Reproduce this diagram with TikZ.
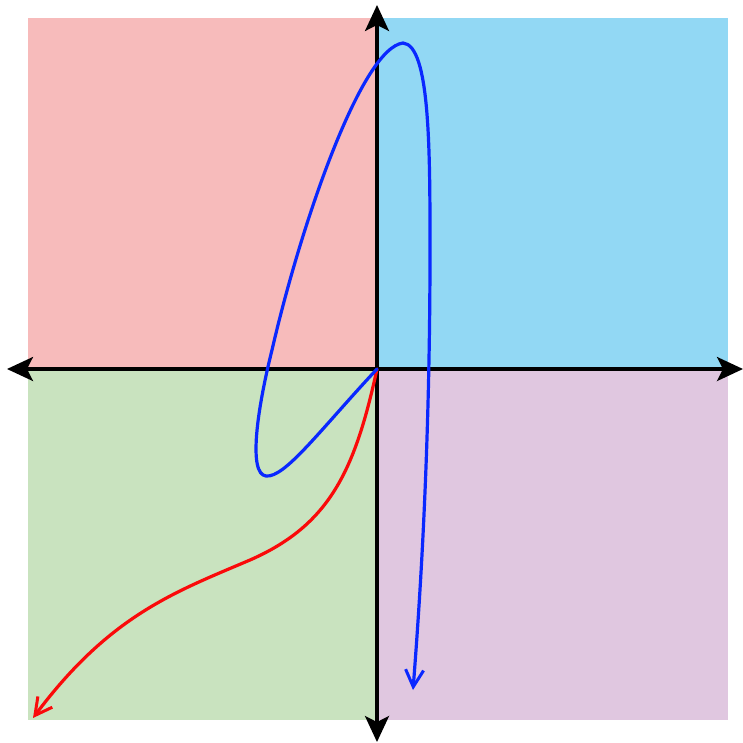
\documentclass[tikz,border=0pt]{standalone}
\usetikzlibrary{arrows.meta}
\definecolor{qred}{RGB}{247,187,187}
\definecolor{qblue}{RGB}{146,216,244}
\definecolor{qgreen}{RGB}{201,227,191}
\definecolor{qpurple}{RGB}{224,199,224}
\definecolor{cblue}{RGB}{10,40,255}
\definecolor{cred}{RGB}{250,10,10}
\tikzset{
  axis/.style={line width=3.2pt,black,{Stealth[length=26pt,width=24pt,inset=6pt]}-{Stealth[length=26pt,width=24pt,inset=6pt]}},
  curve/.style={line width=3.2pt,line cap=round,-{Straight Barb[length=17pt,width=18pt,line width=3pt]}}
}
\begin{document}
\begin{tikzpicture}[x=1pt,y=-1pt]
\useasboundingbox (0,0) rectangle (743,742);
\fill[qred] (28,18) rectangle (377,369);
\fill[qblue] (377,18) rectangle (728,369);
\fill[qgreen] (28,369) rectangle (377,720);
\fill[qpurple] (377,369) rectangle (728,720);
\coordinate (O) at (377,369);
\coordinate (L) at (7,369);
\coordinate (R) at (743,369);
\coordinate (T) at (377,5);
\coordinate (B) at (377,742);
\draw[axis] (L) -- (R);
\draw[axis] (T) -- (B);
\coordinate (bend) at (413,690);
\coordinate (rend) at (33,718);
\draw[curve,cred] (O) .. controls (355,470) and (330,525) .. (250,560)
  .. controls (175,592) and (110,615) .. (rend);
\draw[curve,cblue] (O) .. controls (320,430) and (285,478) .. (266,476)
  .. controls (248,474) and (257,410) .. (272,350)
  .. controls (302,220) and (362,48) .. (403,43)
  .. controls (430,45) and (430,150) .. (430,250)
  .. controls (430,450) and (420,600) .. (bend);
\end{tikzpicture}
\end{document}
